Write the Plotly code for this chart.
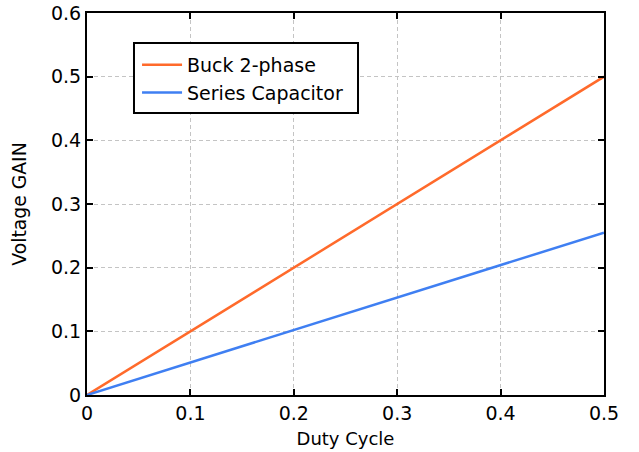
import plotly.graph_objects as go

duty = [0, 0.1, 0.2, 0.3, 0.4, 0.5]
buck_2phase = [0, 0.1, 0.2, 0.3, 0.4, 0.5]
series_cap = [0, 0.051, 0.102, 0.153, 0.204, 0.255]
x_ticks = [0, 0.1, 0.2, 0.3, 0.4, 0.5]
x_ticklabels = ["0", "0.1", "0.2", "0.3", "0.4", "0.5"]
y_ticks = [0, 0.1, 0.2, 0.3, 0.4, 0.5, 0.6]
y_ticklabels = ["0", "0.1", "0.2", "0.3", "0.4", "0.5", "0.6"]

fig = go.Figure()
fig.add_trace(go.Scatter(x=duty, y=buck_2phase, mode="lines", name="Buck 2-phase",
                         line=dict(color="#FF6A2B", width=2.5)))
fig.add_trace(go.Scatter(x=duty, y=series_cap, mode="lines", name="Series Capacitor",
                         line=dict(color="#3F7FF2", width=2.5)))

axis_common = dict(
    showline=True, linecolor="black", linewidth=2, mirror="allticks",
    ticks="inside", ticklen=6, tickwidth=2, tickcolor="black",
    showgrid=True, gridcolor="#c4c4c4", griddash="4px,3px", gridwidth=1,
    zeroline=False, automargin=False,
    tickfont=dict(family="DejaVu Sans", size=19, color="black"),
)

# legend frame (wider than plotly's auto box, as in the reference)
fig.add_shape(type="rect", xref="paper", yref="paper",
              x0=0.0909, x1=0.5242, y0=0.7382, y1=0.9215,
              line=dict(color="black", width=2), fillcolor="white", layer="above")

fig.update_layout(
    width=639, height=452,
    margin=dict(l=87, r=35, t=13, b=57),
    paper_bgcolor="white", plot_bgcolor="white",
    font=dict(family="DejaVu Sans", color="black"),
    xaxis=dict(range=[0, 0.5], tickvals=x_ticks, ticktext=x_ticklabels,
               title=dict(text="Duty Cycle", font=dict(size=18), standoff=10), **axis_common),
    yaxis=dict(range=[0, 0.6], tickvals=y_ticks, ticktext=y_ticklabels,
               title=dict(text="Voltage GAIN", font=dict(size=18.8), standoff=19), **axis_common),
    legend=dict(x=0.0968, y=0.9136, xanchor="left", yanchor="top",
                borderwidth=0, bgcolor="rgba(0,0,0,0)",
                itemwidth=40,
                font=dict(family="DejaVu Sans", size=19), tracegroupgap=0),
    showlegend=True,
)

fig.write_html("out.html")
